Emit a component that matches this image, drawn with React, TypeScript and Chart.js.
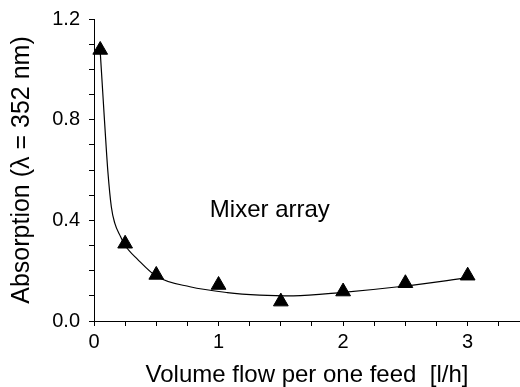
import React, { useEffect, useRef } from 'react';
import { Chart, registerables } from 'chart.js';

Chart.register(...registerables);

// Measured points (triangles)
const flowRate = [0.05, 0.25, 0.5, 1.0, 1.5, 2.0, 2.5, 3.0];
const absorption = [1.077, 0.307, 0.183, 0.143, 0.077, 0.117, 0.15, 0.18];

// Fitted curve
const fitFlow = [0.05, 0.075, 0.094, 0.112, 0.139, 0.166, 0.214, 0.25, 0.35, 0.5, 0.77, 1.07, 1.33, 1.6, 2.0, 2.5, 3.0];
const fitAbsorption = [1.07, 0.87, 0.72, 0.59, 0.454, 0.39, 0.335, 0.3, 0.245, 0.178, 0.136, 0.113, 0.103, 0.1, 0.114, 0.139, 0.172];

const yTickLabels = ['0.0', '0.4', '0.8', '1.2'];
const xTickLabels = ['0', '1', '2', '3'];

const annotationText = 'Mixer array';
const annotationX = 0.93;
const annotationY = 0.414;

const FONT = '"Liberation Sans", Arial, Helvetica, sans-serif';

const annotationPlugin = {
  id: 'mixerLabel',
  afterDraw(chart: any) {
    const { ctx, scales } = chart;
    ctx.save();
    ctx.font = `24px ${FONT}`;
    ctx.fillStyle = '#000';
    ctx.textAlign = 'left';
    ctx.textBaseline = 'alphabetic';
    ctx.fillText(annotationText, scales.x.getPixelForValue(annotationX), scales.y.getPixelForValue(annotationY));
    ctx.restore();
  },
};

export default function App() {
  const ref = useRef<HTMLCanvasElement | null>(null);

  useEffect(() => {
    if (!ref.current) return;
    const chart = new Chart(ref.current, {
      type: 'scatter',
      data: {
        datasets: [
          {
            label: 'measured',
            data: flowRate.map((x, i) => ({ x, y: absorption[i] })),
            pointStyle: 'triangle',
            pointRadius: 8.5,
            pointHoverRadius: 8.5,
            backgroundColor: '#000',
            borderColor: '#000',
            borderWidth: 1,
            order: 0,
            clip: false as any,
          },
          {
            label: 'fit',
            data: fitFlow.map((x, i) => ({ x, y: fitAbsorption[i] })),
            showLine: true,
            pointRadius: 0,
            borderColor: '#000',
            borderWidth: 1.2,
            cubicInterpolationMode: 'monotone',
            order: 1,
          },
        ],
      },
      options: {
        animation: false,
        responsive: false,
        events: [],
        layout: { autoPadding: false, padding: { top: 19, right: 0, left: 0, bottom: 0 } },
        plugins: { legend: { display: false }, tooltip: { enabled: false } },
        scales: {
          x: {
            type: 'linear',
            min: 0,
            max: 3.42,
            afterFit(s: any) {
              s.height = 66;
              s.paddingRight = 0;
              s.paddingLeft = 0;
            },
            ticks: {
              stepSize: 0.25,
              includeBounds: false,
              autoSkip: false,
              maxRotation: 0,
              color: '#000',
              padding: 4,
              font: { family: FONT, size: 20 },
              callback: (v: any) => {
                const s = String(v);
                return xTickLabels.includes(s) ? s : '';
              },
            },
            grid: { drawOnChartArea: false, drawTicks: true, tickLength: 5, color: '#000', lineWidth: 1 },
            border: { display: true, color: '#000', width: 1 },
            title: {
              display: true,
              text: 'Volume flow per one feed  [l/h]',
              color: '#000',
              font: { family: FONT, size: 24, lineHeight: 1 },
              padding: { top: 0, bottom: 0 },
            },
          },
          y: {
            type: 'linear',
            min: 0,
            max: 1.2,
            afterFit(s: any) {
              s.width = 94;
              s.paddingTop = 0;
              s.paddingBottom = 0;
            },
            ticks: {
              stepSize: 0.1,
              includeBounds: false,
              autoSkip: false,
              color: '#000',
              padding: 9,
              font: { family: FONT, size: 20 },
              callback: (v: any) => {
                const s = Number(v).toFixed(1);
                return yTickLabels.includes(s) && Math.abs(Number(v) - Number(s)) < 1e-6 ? s : '';
              },
            },
            grid: { drawOnChartArea: false, drawTicks: true, tickLength: 5, color: '#000', lineWidth: 1 },
            border: { display: true, color: '#000', width: 1 },
            title: {
              display: true,
              text: 'Absorption (λ = 352 nm)',
              color: '#000',
              font: { family: FONT, size: 25, lineHeight: 1 },
              padding: { top: 9.5, bottom: 0 },
            },
          },
        },
      },
      plugins: [annotationPlugin],
    } as any);
    return () => chart.destroy();
  }, []);

  return (
    <div style={{ position: 'absolute', left: 0, top: 0, width: 520, height: 387, background: '#fff' }}>
      <canvas ref={ref} width={520} height={387} style={{ display: 'block' }} />
    </div>
  );
}
